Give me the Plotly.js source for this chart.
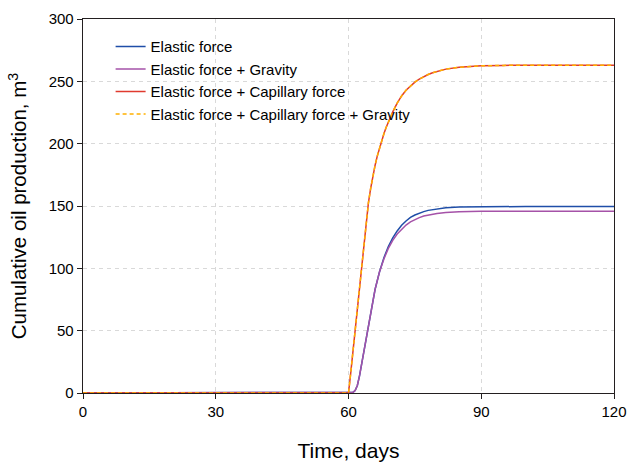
<!DOCTYPE html>
<html>
<head>
<meta charset="utf-8">
<script src="https://cdn.plot.ly/plotly-3.0.1.min.js"></script>
<style>html,body{margin:0;padding:0;background:#fff;}#chart{width:628px;height:465px;}</style>
</head>
<body>
<div id="chart"></div>
<script>
// Time in days
const tElastic = [0, 60, 61, 61.5, 62, 62.5, 63, 63.5, 64, 65, 66, 67, 68, 69, 70, 71, 72, 73, 74, 75, 76, 77, 78, 80, 82, 85, 90, 100, 110, 120];
const elastic  = [0, 0, 0.5, 2, 6, 14, 24, 34, 44, 65, 83, 97, 108.5, 117.5, 124.5, 130, 134.5, 138, 140.8, 142.8, 144.3, 145.5, 146.5, 147.8, 148.6, 149.2, 149.5, 149.6, 149.6, 149.6];
const elasticGravity = [0, 0, 0.5, 2, 6, 14, 24, 34, 44, 65, 83, 97, 107.5, 116, 122.5, 127.5, 131.5, 134.7, 137.3, 139.2, 140.7, 141.9, 142.8, 144, 144.8, 145.4, 145.7, 145.8, 145.8, 145.8];
const tCap = [0, 60, 60.5, 61, 61.5, 62, 62.5, 63, 63.5, 64, 64.5, 65, 65.5, 66, 66.5, 67, 67.5, 68, 68.5, 69, 69.5, 70, 71, 72, 73, 74, 75, 76, 77, 78, 79, 80, 82, 85, 90, 95, 100, 120];
const elasticCap = [0, 0, 16, 33, 51, 70, 88, 105, 123, 139, 152.5, 164, 174, 182.5, 190, 196.5, 202.5, 208, 213, 217.5, 221.7, 225.5, 232.5, 238.3, 242.8, 246.4, 249.4, 251.8, 253.8, 255.5, 256.9, 258, 259.8, 261.3, 262.4, 262.8, 263, 263];
const elasticCapGravity = [0, 0, 16, 33, 51, 70, 88, 105, 123, 139, 152.5, 164, 174, 182.5, 190, 196.5, 202.5, 208, 213, 217.5, 221.7, 225.5, 232.5, 238.3, 242.8, 246.4, 249.4, 251.8, 253.8, 255.5, 256.9, 258, 259.8, 261.3, 262.4, 262.8, 263, 263];

const names = ['Elastic force', 'Elastic force + Gravity', 'Elastic force + Capillary force', 'Elastic force + Capillary force + Gravity'];
const xTicks = [0, 30, 60, 90, 120];
const yTicks = [0, 50, 100, 150, 200, 250, 300];

const traces = [
  {x: tElastic, y: elastic, name: names[0], line: {color: '#1f4ea8', width: 1.5}},
  {x: tElastic, y: elasticGravity, name: names[1], line: {color: '#a552a8', width: 1.5}},
  {x: tCap, y: elasticCap, name: names[2], line: {color: '#e03a2e', width: 1.5}},
  {x: tCap, y: elasticCapGravity, name: names[3], line: {color: '#ffb000', width: 1.5, dash: '4px,3px'}}
].map(t => Object.assign({type: 'scatter', mode: 'lines', cliponaxis: false}, t));

const font = {family: 'Arial, "Liberation Sans", sans-serif', color: '#000'};
const axisCommon = {
  showline: true, linecolor: '#231f20', linewidth: 1.3, mirror: true,
  ticks: 'outside', ticklen: 5, tickcolor: '#231f20', tickwidth: 1,
  showgrid: true, gridcolor: '#d9d9d9', griddash: '4px,4px', gridwidth: 1,
  zeroline: false, layer: 'below traces',
  tickfont: Object.assign({size: 15}, font)
};

const layout = {
  width: 628, height: 465,
  margin: {l: 83, r: 14, t: 19, b: 72},
  paper_bgcolor: '#fff', plot_bgcolor: '#fff',
  showlegend: true,
  legend: {x: 0.052, y: 0.97, xanchor: 'left', yanchor: 'top', bgcolor: 'rgba(0,0,0,0)',
           font: Object.assign({size: 15}, font), tracegroupgap: 0, itemwidth: 30},
  xaxis: Object.assign({}, axisCommon, {
    range: [0, 120], tickvals: xTicks, ticktext: xTicks.map(String),
    title: {text: 'Time, days', font: Object.assign({size: 21}, font), standoff: 24}
  }),
  yaxis: Object.assign({}, axisCommon, {
    range: [0, 300], tickvals: yTicks, ticktext: yTicks.map(String),
    title: {text: 'Cumulative oil production, m<sup>3</sup>', font: Object.assign({size: 20.5}, font), standoff: 16}
  })
};

Plotly.newPlot('chart', traces, layout, {displayModeBar: false, staticPlot: true});
</script>
</body>
</html>
